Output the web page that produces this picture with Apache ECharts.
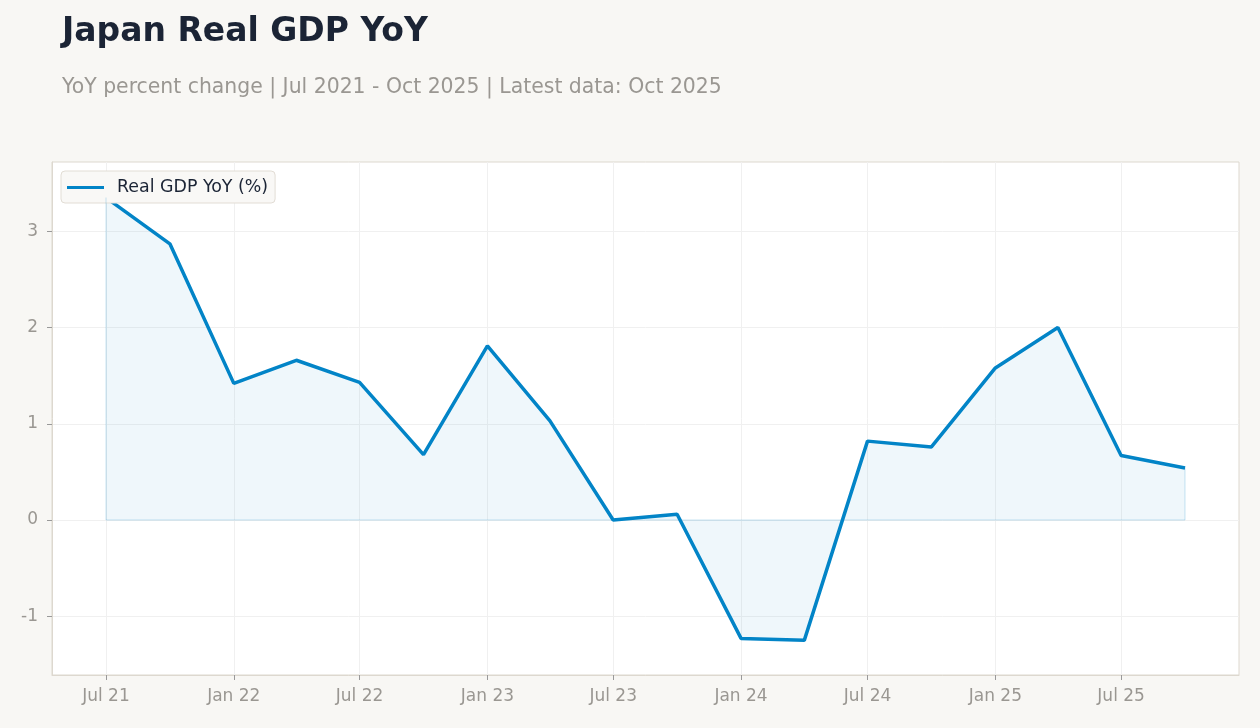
<!DOCTYPE html>
<html lang="en">
<head>
    <meta charset="UTF-8">
    <title>Japan Real GDP YoY</title>
    <script src="https://cdn.jsdelivr.net/npm/echarts@6/dist/echarts.min.js"></script>
    <style>
        html, body {margin: 0; padding: 0; background: #f8f7f4;}
    </style>
</head>
<body>
<div id="main" style="width:1260px;height:728px;"></div>

<script type="text/javascript">
    // quarterly observations
    var quarters = ['2021-07', '2021-10', '2022-01', '2022-04', '2022-07', '2022-10',
        '2023-01', '2023-04', '2023-07', '2023-10', '2024-01', '2024-04',
        '2024-07', '2024-10', '2025-01', '2025-04', '2025-07', '2025-10'];
    var gdpYoy = [3.35, 2.87, 1.42, 1.66, 1.43, 0.68,
        1.81, 1.03, 0.00, 0.06, -1.23, -1.25,
        0.82, 0.76, 1.58, 2.00, 0.67, 0.54];
    // x tick positions (every 6 months)
    var tickMonths = ['2021-07', '2022-01', '2022-07', '2023-01', '2023-07',
        '2024-01', '2024-07', '2025-01', '2025-07'];
    var yTicks = [-1, 0, 1, 2, 3];
    var monthNames = ['Jan', 'Feb', 'Mar', 'Apr', 'May', 'Jun', 'Jul', 'Aug', 'Sep', 'Oct', 'Nov', 'Dec'];

    function toTime(s) {
        var p = s.split('-');
        return Date.UTC(+p[0], +p[1] - 1, 1);
    }

    var xs = quarters.map(toTime);
    var last = xs.length - 1;
    var span = xs[last] - xs[0];
    var xMin = xs[0] - span * 0.05;
    var xMax = xs[last] + span * 0.05;

    var seriesData = [];
    for (var i = 0; i < xs.length; i++) {
        seriesData.push([xs[i], gdpYoy[i]]);
    }

    var font = 'DejaVu Sans';
    var edge = 'rgba(2,132,199,0.14)';
    var myChart = echarts.init(document.getElementById('main'));
    var option = {
        backgroundColor: '#f8f7f4',
        textStyle: {fontFamily: font},
        title: [{
            text: 'Japan Real GDP YoY',
            left: 62,
            top: 16,
            padding: 0,
            textStyle: {fontFamily: font, fontSize: 33, fontWeight: 'bold', color: '#1b2435'}
        }, {
            text: 'YoY percent change | Jul 2021 - Oct 2025 | Latest data: Oct 2025',
            left: 62,
            top: 78,
            padding: 0,
            textStyle: {fontFamily: font, fontSize: 20.4, fontWeight: 'normal', color: '#9a9792'}
        }],
        legend: {
            left: 61,
            top: 171,
            padding: [8, 7, 7, 6],
            backgroundColor: '#f9f8f6',
            borderColor: '#e2ddd5',
            borderWidth: 1,
            borderRadius: 4,
            icon: 'rect',
            itemWidth: 37,
            itemHeight: 3,
            textStyle: {fontFamily: font, fontSize: 17.4, color: '#1b2435', padding: [0, 0, 0, 8]},
            data: ['Real GDP YoY (%)']
        },
        grid: {
            left: 52, right: 21, top: 162, bottom: 53,
            show: true,
            backgroundColor: '#ffffff',
            borderColor: '#ddd8cf',
            borderWidth: 1
        },
        xAxis: {
            type: 'value',
            min: xMin,
            max: xMax,
            axisLine: {show: true, onZero: false, lineStyle: {color: '#ddd8cf'}},
            axisTick: {show: true, length: 5, lineStyle: {color: '#999'}, customValues: tickMonths.map(toTime)},
            axisLabel: {
                customValues: tickMonths.map(toTime),
                margin: 13,
                fontFamily: font,
                fontSize: 17,
                color: '#9a9792',
                formatter: function (v) {
                    var d = new Date(v);
                    return monthNames[d.getUTCMonth()] + ' ' + String(d.getUTCFullYear()).slice(2);
                }
            },
            splitLine: {show: true, lineStyle: {color: '#f0f0f0', width: 1}}
        },
        yAxis: {
            type: 'value',
            min: -1.61,
            max: 3.72,
            axisLine: {show: true, onZero: false, lineStyle: {color: '#ddd8cf'}},
            axisTick: {show: true, length: 5, lineStyle: {color: '#999'}, customValues: yTicks},
            axisLabel: {
                customValues: yTicks,
                margin: 14,
                fontFamily: font,
                fontSize: 17,
                color: '#9a9792'
            },
            splitLine: {show: true, lineStyle: {color: '#f0f0f0', width: 1}}
        },
        series: [{
            name: 'Real GDP YoY (%)',
            type: 'line',
            data: seriesData,
            symbol: 'none',
            color: '#0284c7',
            lineStyle: {width: 3.5, color: '#0284c7'},
            areaStyle: {color: 'rgba(2,132,199,0.09)'},
            // faint outline of the filled region
            markLine: {
                silent: true,
                symbol: 'none',
                label: {show: false},
                lineStyle: {color: edge, width: 1.5, type: 'solid'},
                data: [
                    [{coord: [xs[0], 0]}, {coord: [xs[last], 0]}],
                    [{coord: [xs[0], 0]}, {coord: [xs[0], gdpYoy[0]]}],
                    [{coord: [xs[last], 0]}, {coord: [xs[last], gdpYoy[last]]}]
                ]
            },
            z: 3
        }],
        animation: false
    };
    myChart.setOption(option);
</script>
</body>
</html>
